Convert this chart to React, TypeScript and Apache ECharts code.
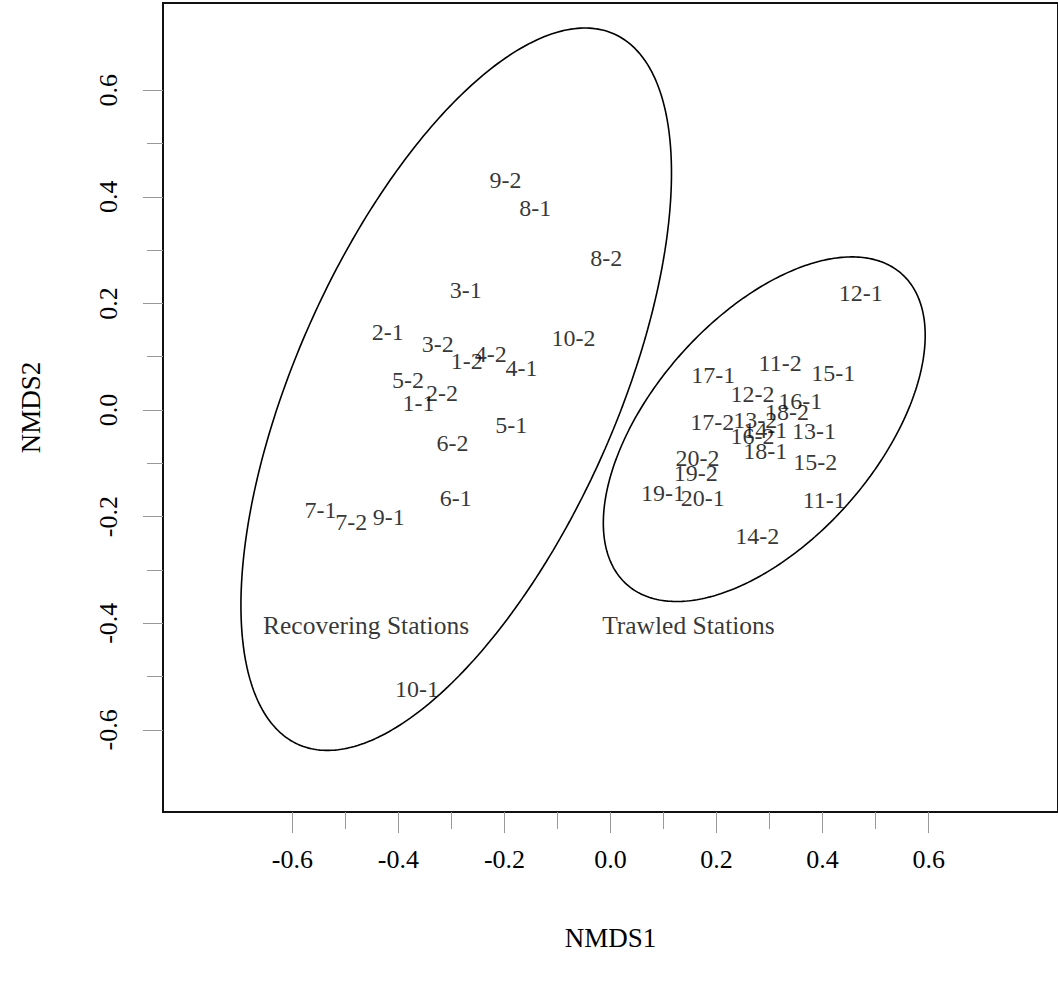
import React, { useEffect, useRef } from "react";
import * as echarts from "echarts";

// Station labels (NMDS1, NMDS2)
const recoveringNames = ["9-2", "8-1", "8-2", "3-1", "2-1", "3-2", "1-2", "4-2", "4-1", "10-2", "5-2", "2-2", "1-1", "5-1", "6-2", "6-1", "7-1", "7-2", "9-1", "10-1"];
const recoveringX = [-0.198, -0.142, -0.008, -0.273, -0.420, -0.326, -0.271, -0.226, -0.168, -0.070, -0.382, -0.318, -0.362, -0.187, -0.298, -0.292, -0.547, -0.489, -0.418, -0.365];
const recoveringY = [0.432, 0.379, 0.285, 0.225, 0.146, 0.124, 0.092, 0.105, 0.079, 0.135, 0.056, 0.032, 0.013, -0.028, -0.062, -0.165, -0.188, -0.210, -0.201, -0.523];

const trawledNames = ["12-1", "11-2", "15-1", "17-1", "12-2", "16-1", "18-2", "17-2", "13-2", "14-1", "16-2", "13-1", "18-1", "20-2", "15-2", "19-2", "19-1", "20-1", "11-1", "14-2"];
const trawledX = [0.472, 0.320, 0.420, 0.194, 0.268, 0.358, 0.333, 0.192, 0.273, 0.292, 0.268, 0.384, 0.292, 0.164, 0.386, 0.161, 0.099, 0.174, 0.403, 0.277];
const trawledY = [0.220, 0.088, 0.069, 0.066, 0.030, 0.017, -0.004, -0.023, -0.019, -0.038, -0.049, -0.039, -0.077, -0.090, -0.098, -0.118, -0.156, -0.165, -0.169, -0.236];

// Group labels
const groupNames = ["Recovering Stations", "Trawled Stations"];
const groupX = [-0.461, 0.147];
const groupY = [-0.405, -0.405];

// Ellipses: [centerX, centerY, semiMajor, semiMinor, angleDeg]
const ellipseRecovering = [-0.291, 0.039, 0.730, 0.302, 65.9];
const ellipseTrawled = [0.290, -0.036, 0.390, 0.211, 48.3];

// Axes
const xRange = [-0.844, 0.844];
const yRange = [-0.7542, 0.7636];
const majorTicks = [-0.6, -0.4, -0.2, 0, 0.2, 0.4, 0.6];
const minorTicks = [-0.5, -0.3, -0.1, 0.1, 0.3, 0.5];

const FONT = "'Liberation Serif', 'Times New Roman', serif";

function ellipsePath(p: number[], n = 360): number[][] {
  const [cx, cy, a, b, deg] = p;
  const t = (deg * Math.PI) / 180;
  const pts: number[][] = [];
  for (let i = 0; i <= n; i++) {
    const s = (2 * Math.PI * i) / n;
    const u = a * Math.cos(s);
    const v = b * Math.sin(s);
    pts.push([cx + u * Math.cos(t) - v * Math.sin(t), cy + u * Math.sin(t) + v * Math.cos(t)]);
  }
  return pts;
}

export default function App() {
  const ref = useRef<HTMLDivElement>(null);
  useEffect(() => {
    document.body.style.margin = "0";
    if (!ref.current) return;
    const chart = echarts.init(ref.current, undefined, { renderer: "svg" });
    const tickLabelStyle = { fontFamily: FONT, fontSize: 26, color: "#000" };
    const stationLabel = {
      show: true,
      position: "inside" as const,
      formatter: "{b}",
      fontFamily: FONT,
      fontSize: 24,
      color: "#000",
      align: "center",
      verticalAlign: "middle",
    };
    const toData = (names: string[], xs: number[], ys: number[]) =>
      names.map((n, i) => ({ name: n, value: [xs[i], ys[i]] }));
    const fmt = (v: number) => v.toFixed(1);

    chart.setOption({
      animation: false,
      backgroundColor: "#fff",
      grid: {
        left: 163,
        top: 3,
        right: -4,
        bottom: 171,
        show: true,
        borderColor: "#111",
        borderWidth: 2,
        containLabel: false,
      },
      xAxis: [
        {
          type: "value",
          min: xRange[0],
          max: xRange[1],
          position: "bottom",
          splitLine: { show: false },
          axisLine: { show: false, onZero: false },
          axisTick: { show: true, length: 21, customValues: majorTicks, lineStyle: { color: "#999", width: 1 } },
          axisLabel: { show: true, margin: 34, customValues: majorTicks, formatter: fmt, ...tickLabelStyle },
          name: "NMDS1",
          nameLocation: "middle",
          nameGap: 112,
          nameTextStyle: { fontFamily: FONT, fontSize: 27, color: "#000" },
        },
        {
          type: "value",
          min: xRange[0],
          max: xRange[1],
          position: "bottom",
          splitLine: { show: false },
          axisLine: { show: false, onZero: false },
          axisTick: { show: true, length: 17, customValues: minorTicks, lineStyle: { color: "#999", width: 1 } },
          axisLabel: { show: false },
        },
      ],
      yAxis: [
        {
          type: "value",
          min: yRange[0],
          max: yRange[1],
          position: "left",
          splitLine: { show: false },
          axisLine: { show: false, onZero: false },
          axisTick: { show: true, length: 20, customValues: majorTicks, lineStyle: { color: "#999", width: 1 } },
          axisLabel: { show: true, margin: 42, rotate: 90, customValues: majorTicks, formatter: fmt, ...tickLabelStyle },
          name: "NMDS2",
          nameLocation: "middle",
          nameRotate: 90,
          nameGap: 119,
          nameTextStyle: { fontFamily: FONT, fontSize: 27, color: "#000" },
        },
        {
          type: "value",
          min: yRange[0],
          max: yRange[1],
          position: "left",
          splitLine: { show: false },
          axisLine: { show: false, onZero: false },
          axisTick: { show: true, length: 16, customValues: minorTicks, lineStyle: { color: "#999", width: 1 } },
          axisLabel: { show: false },
        },
      ],
      series: [
        {
          type: "line",
          data: ellipsePath(ellipseRecovering),
          showSymbol: false,
          symbol: "none",
          lineStyle: { color: "#000", width: 1.6 },
          silent: true,
          z: 1,
        },
        {
          type: "line",
          data: ellipsePath(ellipseTrawled),
          showSymbol: false,
          symbol: "none",
          lineStyle: { color: "#000", width: 1.6 },
          silent: true,
          z: 1,
        },
        {
          type: "scatter",
          symbolSize: 0,
          data: toData(recoveringNames, recoveringX, recoveringY),
          label: stationLabel,
          z: 3,
        },
        {
          type: "scatter",
          symbolSize: 0,
          data: toData(trawledNames, trawledX, trawledY),
          label: stationLabel,
          z: 3,
        },
        {
          type: "scatter",
          symbolSize: 0,
          data: toData(groupNames, groupX, groupY),
          label: { ...stationLabel, fontSize: 25.5 },
          z: 3,
        },
      ],
    });
    return () => chart.dispose();
  }, []);
  return <div ref={ref} style={{ width: 1058, height: 983 }} />;
}
